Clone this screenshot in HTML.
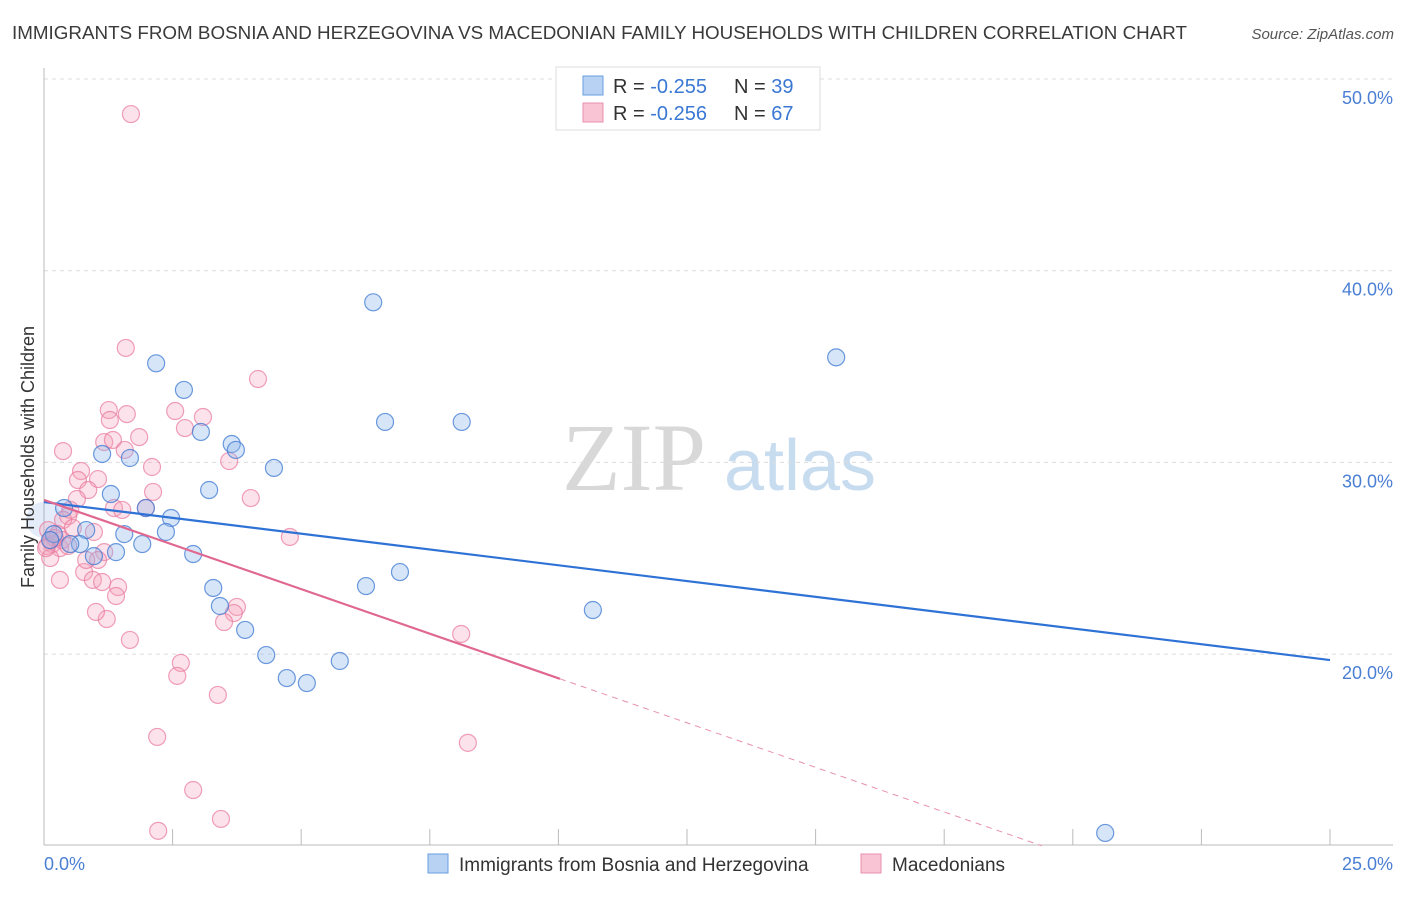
<!DOCTYPE html>
<html><head><meta charset="utf-8"><style>
body{margin:0;background:#fff;font-family:"Liberation Sans",sans-serif}
svg text{font-family:"Liberation Sans",sans-serif}
</style></head><body>
<svg id="chart" width="1406" height="892" viewBox="0 0 1406 892" xmlns="http://www.w3.org/2000/svg">
<text x="12" y="39" font-size="18" fill="#3a3a3a" textLength="1175" lengthAdjust="spacingAndGlyphs">IMMIGRANTS FROM BOSNIA AND HERZEGOVINA VS MACEDONIAN FAMILY HOUSEHOLDS WITH CHILDREN CORRELATION CHART</text>
<text x="1394" y="39" font-size="15" font-style="italic" fill="#555" text-anchor="end">Source: ZipAtlas.com</text>
<g>
<text x="634" y="490" font-size="96" font-family="Liberation Serif" fill="#d8d8d8" text-anchor="middle" style="font-family:'Liberation Serif',serif">ZIP</text>
<text x="800" y="490" font-size="72" fill="#c8dcf0" text-anchor="middle">atlas</text>
</g>
<g id="grid"></g>
<g id="axes"></g>
<g id="marks"></g>
<text transform="translate(34,457) rotate(-90)" font-size="18" fill="#333" text-anchor="middle">Family Households with Children</text>
<g>
<rect x="556" y="67" width="264" height="63" fill="#fff" stroke="#ddd"/>
<rect x="583" y="76" width="20" height="19" fill="#b8d2f4" stroke="#6a9ee0"/>
<rect x="583" y="103" width="20" height="19" fill="#f9c4d4" stroke="#e890ac"/>
<text x="613" y="93" font-size="20" fill="#333">R = <tspan fill="#3a78d4">-0.255</tspan><tspan x="734">N = </tspan><tspan fill="#3a78d4">39</tspan></text>
<text x="613" y="120" font-size="20" fill="#333">R = <tspan fill="#3a78d4">-0.256</tspan><tspan x="734">N = </tspan><tspan fill="#3a78d4">67</tspan></text>
</g>
<g>
<rect x="428" y="854" width="20" height="19" fill="#b8d2f4" stroke="#6a9ee0"/>
<text x="459" y="871" font-size="19" fill="#333">Immigrants from Bosnia and Herzegovina</text>
<rect x="861" y="854" width="20" height="19" fill="#f9c4d4" stroke="#e890ac"/>
<text x="892" y="871" font-size="19" fill="#333">Macedonians</text>
</g>
</svg>
<script>
const xTicksVals=[0,2.5,5,7.5,10,12.5,15,17.5,20,22.5,25];
const yTickVals=[20,30,40,50];
const yTickLabels=["20.0%","30.0%","40.0%","50.0%"];
const xEndLabels=["0.0%","25.0%"];
const blueX=[6.40,15.40,2.18,2.72,6.63,8.12,3.05,3.65,3.73,1.13,1.67,4.47,1.30,3.21,1.98,0.39,2.47,0.82,2.37,0.19,1.56,0.70,0.51,1.91,0.12,1.40,0.97,2.90,6.92,6.26,3.29,3.42,10.67,3.91,4.32,5.75,4.72,5.11,20.63];
const blueY=[38.35,35.48,35.17,33.78,32.11,32.11,31.59,30.96,30.65,30.44,30.23,29.71,28.35,28.56,27.62,27.62,27.10,26.47,26.37,26.26,26.26,25.74,25.74,25.74,25.95,25.32,25.11,25.22,24.28,23.55,23.45,22.51,22.30,21.26,19.95,19.64,18.75,18.49,10.67];
const pinkX=[1.69,1.59,4.16,1.26,1.61,2.55,1.28,3.09,1.85,1.17,1.34,2.74,0.37,1.57,3.60,2.10,0.72,0.66,1.05,0.86,2.12,4.02,0.64,1.36,1.52,0.47,1.98,0.51,0.37,0.56,0.97,4.78,0.27,0.16,0.06,0.31,0.35,1.17,0.12,1.05,0.78,0.95,0.31,1.44,1.40,1.22,3.75,3.69,3.50,1.67,8.11,2.66,2.59,3.38,2.20,8.24,2.90,3.44,2.22,0.08,0.21,0.12,0.04,0.47,0.82,1.13,1.01];
const pinkY=[48.17,35.97,34.35,32.73,32.52,32.68,32.21,32.37,31.32,31.06,31.17,31.79,30.59,30.65,30.07,29.76,29.55,29.08,29.13,28.56,28.46,28.14,28.09,27.62,27.52,27.20,27.62,27.52,27.00,26.58,26.37,26.11,26.26,25.74,25.64,25.53,25.95,25.32,25.01,24.91,24.28,23.87,23.87,23.50,23.03,21.83,22.46,22.14,21.67,20.74,21.05,19.54,18.86,17.87,15.68,15.37,12.91,11.40,10.78,26.47,26.06,25.95,25.53,25.64,24.91,23.76,22.20];
const blueTrend=[27.93,19.69];
const pinkTrend=[28.04,-0.93];
const pinkSolidEnd=10.03;

const NS="http://www.w3.org/2000/svg";
const X0=44,X1=1330,Y50=79,PX=19.17;
const xs=v=>X0+(v/25)*(X1-X0);
const ys=v=>Y50+(50-v)*PX;
function mk(tag,attrs,parent){const e=document.createElementNS(NS,tag);for(const k in attrs)e.setAttribute(k,attrs[k]);parent.appendChild(e);return e;}
const grid=document.getElementById('grid'),axes=document.getElementById('axes'),marks=document.getElementById('marks');
yTickVals.forEach((v,i)=>{
 const l=mk('line',{x1:X0,x2:1393,y1:ys(v),y2:ys(v),stroke:'#dcdcdc','stroke-dasharray':'4,4'},grid);
 
 
 const t=mk('text',{x:1393,y:ys(v)+25,'font-size':18,fill:'#4a7fd4','text-anchor':'end'},axes);
 t.textContent=yTickLabels[i];
 
 
});
const ax=mk('line',{x1:X0,x2:X0,y1:68,y2:845,stroke:'#bbb'},axes);


const bx=mk('line',{x1:X0,x2:1393,y1:845,y2:845,stroke:'#bbb'},axes);


xTicksVals.forEach(v=>{
 const t=mk('line',{x1:xs(v),x2:xs(v),y1:829,y2:845,stroke:'#bbb'},axes);
 
 
});
[[0,'start'],[25,'end']].forEach((d,i)=>{
 const t=mk('text',{x:i?1393:44,y:870,'font-size':18,fill:'#4a7fd4','text-anchor':d[1]},axes);
 t.textContent=xEndLabels[i];
 
 
});
const big=mk('circle',{cx:xs(0),cy:ys(27.0),r:18,fill:'rgba(120,160,230,0.2)',stroke:'none'},marks);


pinkX.forEach((v,i)=>{
 const c=mk('circle',{cx:xs(v),cy:ys(pinkY[i]),r:8.5,fill:'rgba(244,160,186,0.3)',stroke:'rgba(232,120,156,0.7)','stroke-width':1.2},marks);
 
 
});
blueX.forEach((v,i)=>{
 const c=mk('circle',{cx:xs(v),cy:ys(blueY[i]),r:8.5,fill:'rgba(140,180,235,0.35)',stroke:'rgba(60,120,210,0.75)','stroke-width':1.2},marks);
 
 
});
const bl=mk('line',{x1:xs(0),y1:ys(blueTrend[0]),x2:xs(25),y2:ys(blueTrend[1]),stroke:'#2f72d6','stroke-width':2.2},marks);


const pf=x=>pinkTrend[0]+pinkTrend[1]*x;
const pl=mk('line',{x1:xs(0),y1:ys(pf(0)),x2:xs(pinkSolidEnd),y2:ys(pf(pinkSolidEnd)),stroke:'#e06890','stroke-width':2.2},marks);


const xEnd=(pinkTrend[0]-10)/-pinkTrend[1];
const pd=mk('line',{x1:xs(pinkSolidEnd),y1:ys(pf(pinkSolidEnd)),x2:xs(xEnd),y2:ys(10),stroke:'#e890ac','stroke-width':1,'stroke-dasharray':'6,5'},marks);


</script>
</body></html>
